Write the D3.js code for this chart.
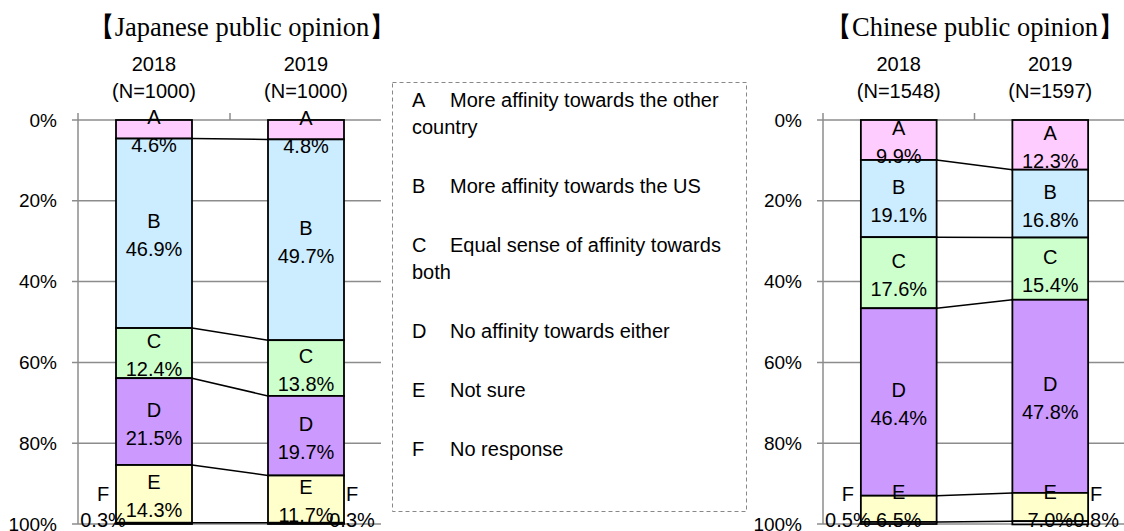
<!DOCTYPE html>
<html>
<head>
<meta charset="utf-8">
<script src="https://cdn.jsdelivr.net/npm/d3@7"></script>
<style>
  body { margin: 0; background: #fff; }
  text { font-family: "Liberation Sans", Arial, sans-serif; fill: #000; }
  .title { font-family: "Liberation Serif", "Times New Roman", serif; }
</style>
</head>
<body>
<div id="chart"></div>
<script>
// categories and legend
const categories = ["A", "B", "C", "D", "E", "F"]
const legendLabels = [
  ["More affinity towards the other", "country"],
  ["More affinity towards the US"],
  ["Equal sense of affinity towards", "both"],
  ["No affinity towards either"],
  ["Not sure"],
  ["No response"]
]
const colors = ["#FFCCFF", "#CCECFF", "#CCFFCC", "#CC99FF", "#FFFFCC", "#FFFFFF"]

// survey results (%)
const years = ["2018", "2019"]
const japanN = ["(N=1000)", "(N=1000)"]
const japan2018 = [4.6, 46.9, 12.4, 21.5, 14.3, 0.3]
const japan2019 = [4.8, 49.7, 13.8, 19.7, 11.7, 0.3]
const chinaN = ["(N=1548)", "(N=1597)"]
const china2018 = [9.9, 19.1, 17.6, 46.4, 6.5, 0.5]
const china2019 = [12.3, 16.8, 15.4, 47.8, 7.0, 0.8]

const yTicks = [0, 20, 40, 60, 80, 100]

const width = 1124
const height = 531
const fs = "20px"

let svg = d3.select("#chart")
  .append("svg")
  .attr("width", width)
  .attr("height", height)

let y = d3.scaleLinear()
  .domain([0, 100])
  .range([120, 524])

function drawPanel(opts) {
  let x = d3.scaleBand()
    .domain(years)
    .range([opts.left, opts.right])
    .paddingInner(0.5)
    .paddingOuter(0.25)

  let g = svg.append("g")

  // gridlines
  g.selectAll(".grid")
    .data(yTicks)
    .enter()
    .append("line")
    .attr("x1", opts.left - 6)
    .attr("x2", opts.gridEnd)
    .attr("y1", d => y(d))
    .attr("y2", d => y(d))
    .attr("stroke", "#8c8c8c")
    .attr("stroke-width", 1.5)

  // left axis line
  g.append("line")
    .attr("x1", opts.left).attr("x2", opts.left)
    .attr("y1", y(0) - 7).attr("y2", y(100))
    .attr("stroke", "#8c8c8c")
    .attr("stroke-width", 1.5)

  // tick between the two categories (top)
  let mid = x(years[0]) + x.bandwidth() + (x.step() - x.bandwidth()) / 2
  g.append("line")
    .attr("x1", mid).attr("x2", mid)
    .attr("y1", y(0) - 7).attr("y2", y(0))
    .attr("stroke", "#8c8c8c")
    .attr("stroke-width", 1.5)

  // y labels
  g.selectAll(".ylab")
    .data(yTicks)
    .enter()
    .append("text")
    .attr("x", opts.left - 21)
    .attr("y", d => y(d))
    .attr("dy", "0.35em")
    .attr("text-anchor", "end")
    .style("font-size", "19px")
    .text(d => d + "%")

  // title
  g.append("text")
    .attr("class", "title")
    .attr("x", opts.titleX)
    .attr("y", 36)
    .attr("text-anchor", "middle")
    .style("font-size", "26.5px")
    .text(opts.title)

  // year labels
  years.forEach((yr, i) => {
    let cx = x(yr) + x.bandwidth() / 2
    g.append("text").attr("x", cx).attr("y", 71)
      .attr("text-anchor", "middle").style("font-size", fs).text(yr)
    g.append("text").attr("x", cx).attr("y", 98)
      .attr("text-anchor", "middle").style("font-size", fs).text(opts.n[i])
  })

  let series = [opts.v2018, opts.v2019]
  let cums = series.map(vals => {
    let c = [0]
    vals.forEach((v, i) => c.push(c[i] + v))
    return c
  })

  // connector lines between bars
  for (let k = 1; k < categories.length; k++) {
    g.append("line")
      .attr("x1", x(years[0]) + x.bandwidth())
      .attr("x2", x(years[1]))
      .attr("y1", y(cums[0][k]))
      .attr("y2", y(cums[1][k]))
      .attr("stroke", "#000")
      .attr("stroke-width", 1.5)
  }

  series.forEach((vals, si) => {
    let bx = x(years[si])
    let bw = x.bandwidth()
    let segs = vals.map((v, i) => ({ cat: categories[i], v: v, y0: cums[si][i], y1: cums[si][i + 1], color: colors[i] }))

    g.selectAll(".seg" + si)
      .data(segs)
      .enter()
      .append("rect")
      .attr("x", bx)
      .attr("width", bw)
      .attr("y", d => y(d.y0))
      .attr("height", d => y(d.y1) - y(d.y0))
      .attr("fill", d => d.color)
      .attr("stroke", "#000")
      .attr("stroke-width", 1.8)

    segs.forEach(d => {
      let cx = bx + bw / 2
      let ly, vy
      if (d.cat === "F") {
        cx = si === 0 ? bx - 13 : bx + bw + 8
        vy = y(100) - 4
        ly = vy - 26
      } else {
        let c = (y(d.y0) + y(d.y1)) / 2
        vy = Math.min(c + 16, y(100) - 4)
        ly = vy - 28
      }
      g.append("text").attr("x", cx).attr("y", ly).attr("dy", "0.35em")
        .attr("text-anchor", "middle").style("font-size", fs).text(d.cat)
      g.append("text").attr("x", cx).attr("y", vy).attr("dy", "0.35em")
        .attr("text-anchor", "middle").style("font-size", fs).text(d.v.toFixed(1) + "%")
    })
  })
}

drawPanel({ left: 78, right: 382, gridEnd: 381, title: "【Japanese public opinion】", titleX: 242, n: japanN, v2018: japan2018, v2019: japan2019 })
drawPanel({ left: 823, right: 1126, gridEnd: 1124, title: "【Chinese public opinion】", titleX: 975, n: chinaN, v2018: china2018, v2019: china2019 })

// legend box
svg.append("rect")
  .attr("x", 392.5)
  .attr("y", 82.5)
  .attr("width", 354)
  .attr("height", 429)
  .attr("fill", "none")
  .attr("stroke", "#888")
  .attr("stroke-dasharray", "4,3")

let ly = 107
categories.forEach((c, i) => {
  svg.append("text").attr("x", 412).attr("y", ly).style("font-size", fs).text(c)
  legendLabels[i].forEach((line, j) => {
    svg.append("text")
      .attr("x", j === 0 ? 450 : 412)
      .attr("y", ly)
      .style("font-size", fs)
      .text(line)
    if (j < legendLabels[i].length - 1) ly += 27
  })
  ly += 59
})
</script>
</body>
</html>
